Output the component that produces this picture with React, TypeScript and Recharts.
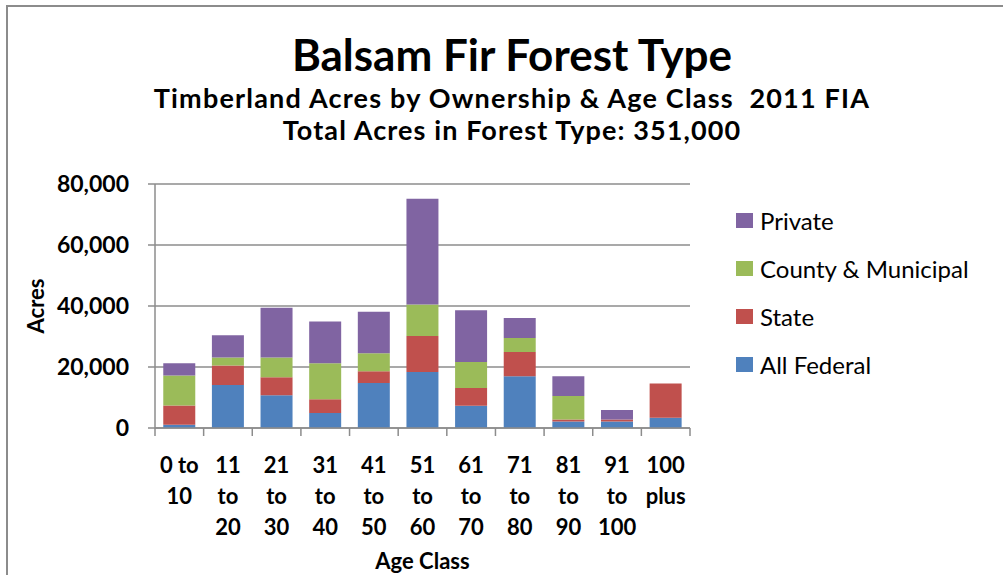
import React from 'react';
import { BarChart, Bar, XAxis, YAxis, CartesianGrid, Legend } from 'recharts';

const categories = ['0 to 10', '11 to 20', '21 to 30', '31 to 40', '41 to 50', '51 to 60', '61 to 70', '71 to 80', '81 to 90', '91 to 100', '100 plus'];
const tickLabelLines = [
  ['0 to', '10'],
  ['11', 'to', '20'],
  ['21', 'to', '30'],
  ['31', 'to', '40'],
  ['41', 'to', '50'],
  ['51', 'to', '60'],
  ['61', 'to', '70'],
  ['71', 'to', '80'],
  ['81', 'to', '90'],
  ['91', 'to', '100'],
  ['100', 'plus'],
];
const allFederal = [1100, 14100, 10700, 4900, 14750, 18400, 7300, 17000, 2100, 2100, 3400];
const stateOwned = [6300, 6400, 5900, 4500, 3850, 11800, 5800, 7900, 650, 650, 11200];
const countyMunicipal = [9800, 2600, 6500, 11800, 5900, 10300, 8500, 4600, 7750, 0, 0];
const privateOwned = [4000, 7300, 16300, 13700, 13600, 34700, 17000, 6600, 6500, 3150, 0];
const yTicks = [0, 20000, 40000, 60000, 80000];
const legendOrder = ['Private', 'County & Municipal', 'State', 'All Federal'];

const titleText = 'Balsam Fir Forest Type';
const subtitleText = 'Timberland Acres by Ownership & Age Class  2011 FIA';
const totalText = 'Total Acres in Forest Type: 351,000';

const data = categories.map((c, i) => ({
  category: c,
  federal: allFederal[i],
  state: stateOwned[i],
  county: countyMunicipal[i],
  private: privateOwned[i],
}));

const FONT = 'Lato, "Open Sans", sans-serif';
const AXIS = '#8c8c8c';

function XTick(props: any) {
  const { x, y, index, visibleTicksCount, width } = props;
  const n = visibleTicksCount || categories.length;
  const band = (width || 535) / n;
  const lines = tickLabelLines[index] || [String(props.payload?.value ?? '')];
  return (
    <g>
      <line x1={x - band / 2} x2={x - band / 2} y1={y} y2={y + 8} stroke={AXIS} strokeWidth={1.5} />
      {index === n - 1 && (
        <line x1={x + band / 2} x2={x + band / 2} y1={y} y2={y + 8} stroke={AXIS} strokeWidth={1.5} />
      )}
      <text x={x} textAnchor="middle" fontFamily={FONT} fontWeight={700} fontSize={22} fill="#000">
        {lines.map((l: string, i: number) => (
          <tspan key={i} x={x} y={y + 45 + i * 31}>{l}</tspan>
        ))}
      </text>
    </g>
  );
}

function LegendContent(props: any) {
  const payload = props.payload || [];
  const items = legendOrder
    .map((name) => payload.find((p: any) => p.value === name))
    .filter(Boolean);
  return (
    <div style={{ fontFamily: FONT }}>
      {items.map((it: any) => (
        <div key={it.value} style={{ height: 48, display: 'flex', alignItems: 'center' }}>
          <div style={{ width: 17, height: 15, background: it.color, marginRight: 7 }} />
          <span style={{ fontSize: 24, color: '#000', whiteSpace: 'pre' }}>{it.value}</span>
        </div>
      ))}
    </div>
  );
}

function AcresLabel(props: any) {
  const vb = props.viewBox || { x: 0, y: 0, width: 0, height: 0 };
  const cx = vb.x + 28;
  const cy = vb.y + vb.height / 2;
  return (
    <text x={cx} y={cy} transform={`rotate(-90, ${cx}, ${cy})`} textAnchor="middle" dominantBaseline="central"
      fontFamily={FONT} fontWeight={700} fontSize={22} fill="#000">Acres</text>
  );
}

export default function App() {
  return (
    <div style={{ position: 'absolute', left: 0, top: 0, width: 1003, height: 575, overflow: 'hidden', background: '#fff' }}>
      <div style={{ position: 'absolute', left: 6, top: 5, width: 1100, height: 700, borderLeft: `2px solid ${AXIS}`, borderTop: `2px solid ${AXIS}` }} />
      <svg width={1003} height={180} style={{ position: 'absolute', left: 0, top: 0 }}>
        <text x={512} y={71} textAnchor="middle" fontFamily={FONT} fontWeight={700} fontSize={44} fill="#000">{titleText}</text>
        <text x={512} y={108} textAnchor="middle" fontFamily={FONT} fontWeight={700} fontSize={27} letterSpacing={1.2} fill="#000" style={{ whiteSpace: 'pre' }}>{subtitleText}</text>
        <text x={512} y={140} textAnchor="middle" fontFamily={FONT} fontWeight={700} fontSize={27} letterSpacing={1.1} fill="#000">{totalText}</text>
      </svg>
      <div style={{ position: 'absolute', left: 0, top: 0 }}>
        <BarChart width={1003} height={575} data={data} margin={{ top: 184, right: 313, bottom: 0, left: 7 }} barCategoryGap="17%">
          <CartesianGrid vertical={false} stroke={AXIS} strokeWidth={1.5} />
          <XAxis dataKey="category" interval={0} height={147} tickSize={0} tickMargin={0} tickLine={false}
            axisLine={{ stroke: AXIS, strokeWidth: 1.5 }} tick={<XTick />}
            label={{ value: 'Age Class', position: 'insideBottom', offset: 6, fontFamily: FONT, fontWeight: 700, fontSize: 22, fill: '#000' }} />
          <YAxis width={148} domain={[0, 80000]} ticks={yTicks} interval={0} tickSize={7} tickMargin={19}
            tickFormatter={(v: number) => v.toLocaleString('en-US')}
            axisLine={{ stroke: AXIS, strokeWidth: 1.5 }} tickLine={{ stroke: AXIS, strokeWidth: 1.5 }}
            tick={{ fill: '#000', fontFamily: FONT, fontWeight: 700, fontSize: 23 }}
            label={<AcresLabel />} />
          <Legend layout="vertical" align="center" verticalAlign="middle" content={<LegendContent />}
            wrapperStyle={{ left: 736, top: 196, width: 265 }} />
          <Bar dataKey="federal" name="All Federal" stackId="a" fill="#4F81BD" isAnimationActive={false} />
          <Bar dataKey="state" name="State" stackId="a" fill="#C0504D" isAnimationActive={false} />
          <Bar dataKey="county" name="County & Municipal" stackId="a" fill="#9BBB59" isAnimationActive={false} />
          <Bar dataKey="private" name="Private" stackId="a" fill="#8064A2" isAnimationActive={false} />
        </BarChart>
      </div>
    </div>
  );
}
